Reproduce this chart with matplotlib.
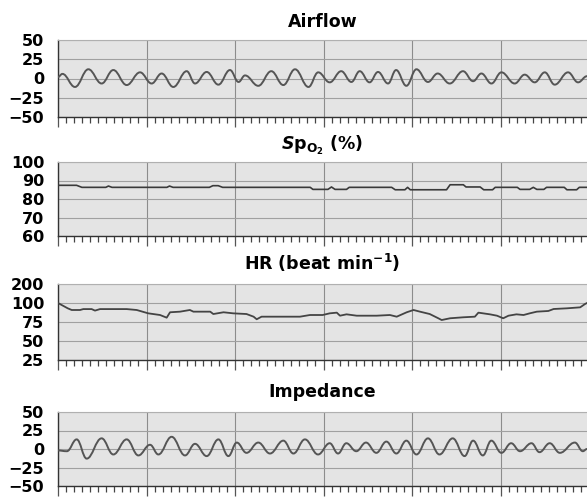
import numpy as np
import matplotlib.pyplot as plt
from matplotlib.path import Path
from matplotlib.patches import PathPatch
from matplotlib.ticker import MultipleLocator

plt.rcParams['font.family'] = ['DejaVu Sans']
plt.rcParams['font.weight'] = 'bold'
plt.rcParams['mathtext.fontset'] = 'custom'
plt.rcParams['mathtext.rm'] = 'DejaVu Sans:bold'
plt.rcParams['mathtext.it'] = 'DejaVu Sans:italic:bold'
plt.rcParams['mathtext.bf'] = 'DejaVu Sans:bold'

# time axis: one unit per vertical grid division
X_MAX = 5.977

# airflow: turning points of the trace
air_t = [0.0, 0.05, 0.192, 0.343, 0.493, 0.625, 0.776, 0.927, 1.058, 1.171,
         1.303, 1.454, 1.548, 1.68, 1.812, 1.943, 2.04, 2.113, 2.263, 2.41,
         2.546, 2.678, 2.83, 2.94, 3.07, 3.2, 3.315, 3.409, 3.52, 3.616,
         3.729, 3.82, 3.936, 4.05, 4.18, 4.29, 4.426, 4.576, 4.69, 4.784,
         4.897, 5.01, 5.16, 5.273, 5.386, 5.5, 5.612, 5.763, 5.876, 5.977]
air_v = [2, 6, -11, 12, -6.5, 11, -8.5, 8, -6.5, 6.5,
         -11, 9.5, -6.5, 8.5, -8, 11, -4.5, 4, -9.5, 9.5,
         -8.5, 12, -11, 8, -5, 9.5, -4.5, 9.5, -5, 8.5,
         -6.5, 11, -9.5, 12, -4.5, 6.5, -6.5, 9.5, -3.5, 6.5,
         -6.5, 8, -6.5, 5, -5, 8, -8, 8, -5, 3]

# SpO2 (%)
spo2_t = [0.0, 0.21, 0.27, 0.54, 0.57, 0.61, 1.23, 1.26, 1.30, 1.71, 1.75,
          1.81, 1.86, 2.85, 2.88, 3.05, 3.09, 3.13, 3.26, 3.29, 3.77, 3.81,
          3.92, 3.95, 3.98, 4.39, 4.43, 4.58, 4.61, 4.77, 4.81, 4.91, 4.94,
          5.19, 5.22, 5.33, 5.37, 5.41, 5.49, 5.52, 5.72, 5.75, 5.86, 5.89,
          5.977]
spo2_v = [87.4, 87.4, 86.3, 86.3, 87.0, 86.3, 86.3, 87.0, 86.3, 86.3, 87.2,
          87.2, 86.3, 86.3, 85.2, 85.2, 86.5, 85.2, 85.2, 86.3, 86.3, 85.0,
          85.0, 86.3, 85.0, 85.0, 87.7, 87.7, 86.5, 86.5, 85.0, 85.0, 86.3,
          86.3, 85.2, 85.2, 86.3, 85.2, 85.2, 86.3, 86.3, 85.0, 85.0, 86.3,
          86.3]

# HR (beat/min)
hr_t = [0.0, 0.11, 0.155, 0.249, 0.286, 0.38, 0.418, 0.475, 0.776, 0.889,
        1.02, 1.153, 1.228, 1.266, 1.379, 1.49, 1.53, 1.72, 1.755, 1.87,
        1.98, 2.13, 2.21, 2.245, 2.30, 2.58, 2.734, 2.847, 2.99, 3.07,
        3.15, 3.186, 3.26, 3.375, 3.60, 3.75, 3.827, 3.94, 4.017, 4.09,
        4.2, 4.297, 4.335, 4.43, 4.58, 4.71, 4.75, 4.88, 4.96, 5.03,
        5.09, 5.18, 5.26, 5.33, 5.41, 5.54, 5.60, 5.75, 5.90, 5.955, 5.977]
hr_v = [100, 93, 90.8, 90.8, 92, 92, 90, 92, 92, 90.8,
        86.4, 84.2, 80.7, 87.8, 88.6, 90.8, 88.6, 88.6, 85.5, 87.8,
        86.4, 85.5, 82, 78.6, 82, 82, 82, 84.2, 84.2, 86.4,
        87.3, 83.3, 85.1, 83.3, 83.3, 84.2, 82, 87.8, 90.8, 88.6,
        85.5, 79.9, 77.6, 79.9, 81.2, 82, 87.3, 85.1, 83.3, 79.9,
        83.3, 85.1, 84.2, 86.4, 88.6, 89.5, 92.1, 93, 94.3, 98.7, 100]

# impedance: turning points of the trace
imp_t = [0.0, 0.1, 0.211, 0.324, 0.493, 0.625, 0.776, 0.908, 1.04, 1.134,
         1.284, 1.435, 1.548, 1.68, 1.812, 1.925, 2.02, 2.13, 2.263, 2.395,
         2.546, 2.66, 2.79, 2.938, 3.07, 3.164, 3.258, 3.37, 3.48, 3.597,
         3.71, 3.823, 3.936, 4.05, 4.18, 4.31, 4.46, 4.594, 4.69, 4.8,
         4.896, 5.01, 5.12, 5.22, 5.35, 5.44, 5.556, 5.67, 5.84, 5.93, 5.977]
imp_v = [-2, -3, 13, -13, 14.4, -7.4, 13, -8.7, 5.7, -7.4,
         16.5, -8.7, 7, -9.6, 13, -9.6, 8.7, -5.2, 8.7, -6.1,
         11.3, -6.1, 13, -7.4, 7.8, -6.1, 7.8, -3, 8.7, -5.2,
         10, -6.1, 11.3, -7.4, 14.4, -7.4, 14.4, -9.6, 11.3, -8.7,
         11.3, -5.2, 7.8, -3, 7.8, -4.3, 7.8, -5.2, 8.7, -3, 0]

hr_ticks = [25, 50, 75, 100, 200]


def hr_fwd(v):
    v = np.asarray(v, dtype=float)
    return np.where(v <= 100, (v - 25) / 25, 3 + (v - 100) / 100)


def hr_inv(p):
    p = np.asarray(p, dtype=float)
    return np.where(p <= 3, 25 + 25 * p, 100 + 100 * (p - 3))


def smooth_trace(ax, t, v, k=0.4):
    # cubic bezier through each turning point, flat tangent at the turning point
    verts = [(t[0], v[0])]
    codes = [Path.MOVETO]
    for i in range(1, len(t)):
        dx = t[i] - t[i - 1]
        verts += [(t[i - 1] + k * dx, v[i - 1]), (t[i] - k * dx, v[i]), (t[i], v[i])]
        codes += [Path.CURVE4] * 3
    ax.add_patch(PathPatch(Path(verts, codes), fill=False, edgecolor='#555555',
                           lw=1.4, capstyle='round', joinstyle='round', zorder=3))


def style_axis(ax, title, pad, yticks, ylim):
    ax.set_facecolor('#e4e4e4')
    ax.set_xlim(0, X_MAX)
    ax.set_ylim(*ylim)
    ax.set_yticks(yticks)
    ax.yaxis.set_minor_locator(plt.NullLocator())
    ax.xaxis.set_major_locator(MultipleLocator(1))
    ax.xaxis.set_minor_locator(MultipleLocator(1 / 11))
    ax.set_xticklabels([])
    ax.tick_params(axis='x', which='major', direction='out', length=7, width=0.9, color='#555555')
    ax.tick_params(axis='x', which='minor', direction='out', length=4.5, width=0.9, color='#444444')
    ax.tick_params(axis='y', length=0, pad=10, labelsize=11.5)
    ax.grid(axis='x', which='major', color='#8c8c8c', lw=0.8)
    ax.grid(axis='y', which='major', color='#a0a0a0', lw=0.8)
    ax.set_axisbelow(True)
    ax.spines['right'].set_visible(False)
    ax.spines['top'].set_color('#b0b0b0')
    ax.spines['top'].set_linewidth(0.8)
    ax.spines['left'].set_color('#333333')
    ax.spines['bottom'].set_color('#333333')
    ax.spines['left'].set_linewidth(1.0)
    ax.spines['bottom'].set_linewidth(1.0)
    ax.set_title(title, fontsize=12.5, fontweight='bold', pad=pad)


fig = plt.figure(figsize=(5.87, 5.0), dpi=100)
left = 58 / 587
width = 1 - left
ax1 = fig.add_axes([left, 0.766, width, 0.154])
ax2 = fig.add_axes([left, 0.528, width, 0.148])
ax3 = fig.add_axes([left, 0.280, width, 0.152])
ax4 = fig.add_axes([left, 0.028, width, 0.148])

style_axis(ax1, 'Airflow', 9.5, [-50, -25, 0, 25, 50], (-50, 50))
smooth_trace(ax1, air_t, air_v)

style_axis(ax2, r'$\mathit{S}$p$_{\mathrm{O}_2}$ (%)', 9, [60, 70, 80, 90, 100], (60, 100))
ax2.plot(spo2_t, spo2_v, color='#3a3a3a', lw=1.2, zorder=3)

ax3.set_yscale('function', functions=(hr_fwd, hr_inv))
style_axis(ax3, r'HR (beat min$^{-1}$)', 10, hr_ticks, (25, 200))
ax3.set_yticklabels([str(v) for v in hr_ticks])
ax3.plot(hr_t, hr_v, color='#444444', lw=1.3, zorder=3)

style_axis(ax4, 'Impedance', 11, [-50, -25, 0, 25, 50], (-50, 50))
smooth_trace(ax4, imp_t, imp_v)

fig.savefig('out.png', dpi=100, facecolor='white')
